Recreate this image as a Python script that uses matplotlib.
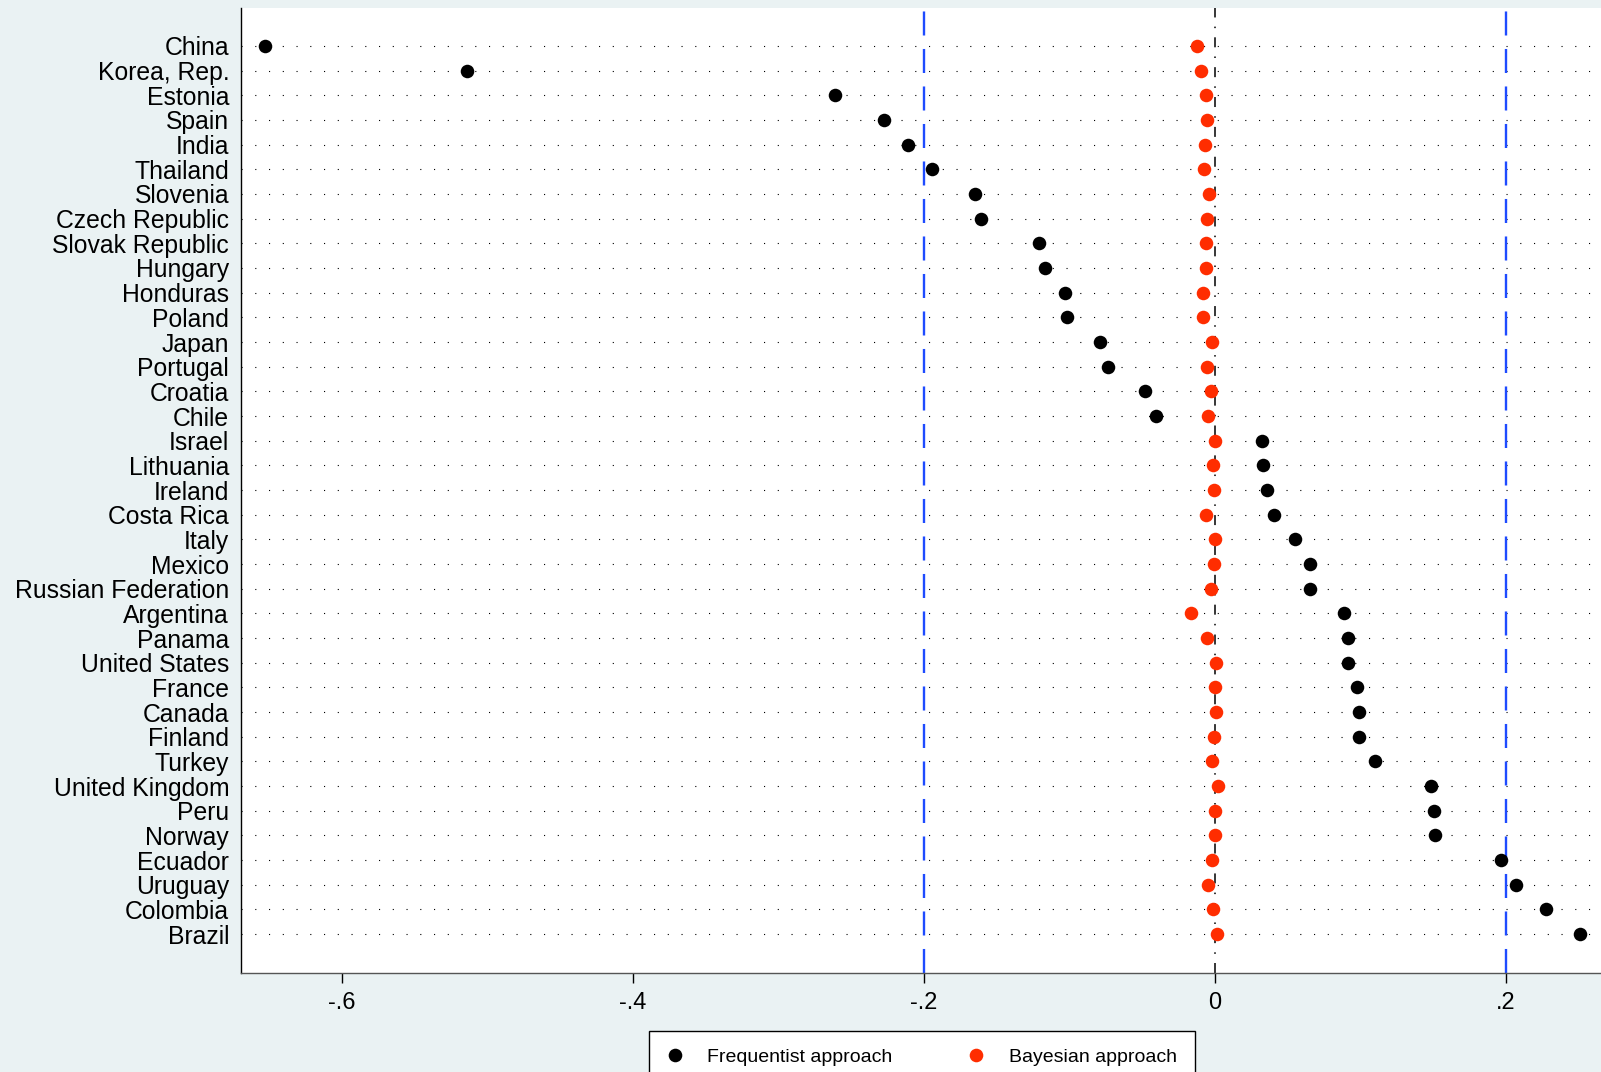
import numpy as np
import matplotlib
matplotlib.use('Agg')
import matplotlib.pyplot as plt
from matplotlib.lines import Line2D

plt.rcParams['font.family'] = ['Liberation Sans', 'DejaVu Sans']
plt.rcParams['lines.scale_dashes'] = False

# datos (de arriba hacia abajo)
countries = ['China', 'Korea, Rep.', 'Estonia', 'Spain', 'India', 'Thailand',
             'Slovenia', 'Czech Republic', 'Slovak Republic', 'Hungary',
             'Honduras', 'Poland', 'Japan', 'Portugal', 'Croatia', 'Chile',
             'Israel', 'Lithuania', 'Ireland', 'Costa Rica', 'Italy', 'Mexico',
             'Russian Federation', 'Argentina', 'Panama', 'United States',
             'France', 'Canada', 'Finland', 'Turkey', 'United Kingdom', 'Peru',
             'Norway', 'Ecuador', 'Uruguay', 'Colombia', 'Brazil']

frequentist = [-0.653, -0.514, -0.261, -0.2275, -0.2107, -0.1942,
               -0.165, -0.1608, -0.1207, -0.117, -0.1029, -0.1015,
               -0.0793, -0.0735, -0.0479, -0.0408, 0.0321, 0.0328,
               0.0358, 0.0409, 0.055, 0.065, 0.0656, 0.0888, 0.0915,
               0.0915, 0.0973, 0.0987, 0.0993, 0.110, 0.1486, 0.1502,
               0.1509, 0.1966, 0.2067, 0.2275, 0.2509]

bayesian = [-0.0126, -0.0099, -0.0065, -0.0055, -0.0069, -0.0076,
            -0.0040, -0.0055, -0.0062, -0.0062, -0.0083, -0.0083,
            -0.0019, -0.0055, -0.0028, -0.0050, 0.0002, -0.0011,
            -0.0005, -0.0064, 0.0000, -0.0007, -0.0030, -0.0163,
            -0.0057, 0.0007, 0.0000, 0.0007, -0.0007, -0.0020,
            0.0023, 0.0000, 0.0000, -0.0020, -0.0050, -0.0012, 0.0014]

xticks = [-0.6, -0.4, -0.2, 0, 0.2]
xticklabels = ['-.6', '-.4', '-.2', '0', '.2']

bg = '#EAF2F3'
red = '#FF2D00'
blue = '#1E4BFF'

n = len(countries)
ypos = np.arange(n)[::-1]

fig = plt.figure(figsize=(16.01, 10.72), dpi=100, facecolor=bg)
ax = fig.add_axes([241 / 1601, 1 - 973 / 1072, 1 - 241 / 1601, (973 - 8) / 1072])
ax.set_facecolor('white')

# lineas punteadas por pais
for y in ypos:
    ax.axhline(y, color='black', lw=0.8, linestyle=(0, (0.8, 9.1)), zorder=1)

# lineas de referencia
ax.axvline(0, color='black', lw=1.1, linestyle=(0, (7.2, 6.6, 1.1, 6.6)), zorder=2)
for xv in (-0.2, 0.2):
    ax.axvline(xv, color=blue, lw=1.7, linestyle=(0, (17.3, 9.7)), zorder=2)

ax.scatter(frequentist, ypos, s=95, color='black', zorder=3, linewidths=0)
ax.scatter(bayesian, ypos, s=95, color=red, zorder=4, linewidths=0)

ax.set_xlim(-0.6694, 0.2653)
ax.set_ylim(-1.58, n - 1 + 1.54)

ax.set_yticks(ypos)
ax.set_yticklabels(countries, fontsize=17.8)
ax.tick_params(axis='y', length=0, pad=8.5)
ax.set_xticks(xticks)
ax.set_xticklabels(xticklabels, fontsize=17)
ax.tick_params(axis='x', length=7, width=1, pad=6.5)

ax.spines['top'].set_visible(False)
ax.spines['right'].set_visible(False)
ax.spines['left'].set_color('black')
ax.spines['left'].set_linewidth(1.0)
ax.spines['bottom'].set_color('#555555')
ax.spines['bottom'].set_linewidth(1.0)

handles = [Line2D([], [], marker='o', color='none', markerfacecolor='black',
                  markeredgewidth=0, markersize=9.8, label='Frequentist approach'),
           Line2D([], [], marker='o', color='none', markerfacecolor=red,
                  markeredgewidth=0, markersize=9.8, label='Bayesian approach')]
leg = fig.legend(handles=handles, loc='upper center', ncol=2,
                 bbox_to_anchor=(922 / 1601, 1 - 1031 / 1072),
                 fontsize=14, frameon=True, fancybox=False,
                 edgecolor='black', framealpha=1, borderpad=0.9,
                 borderaxespad=0, handletextpad=1.29, columnspacing=3.9,
                 handlelength=0.8)
leg.get_frame().set_linewidth(1.0)

fig.savefig('out.png', dpi=100, facecolor=bg)
